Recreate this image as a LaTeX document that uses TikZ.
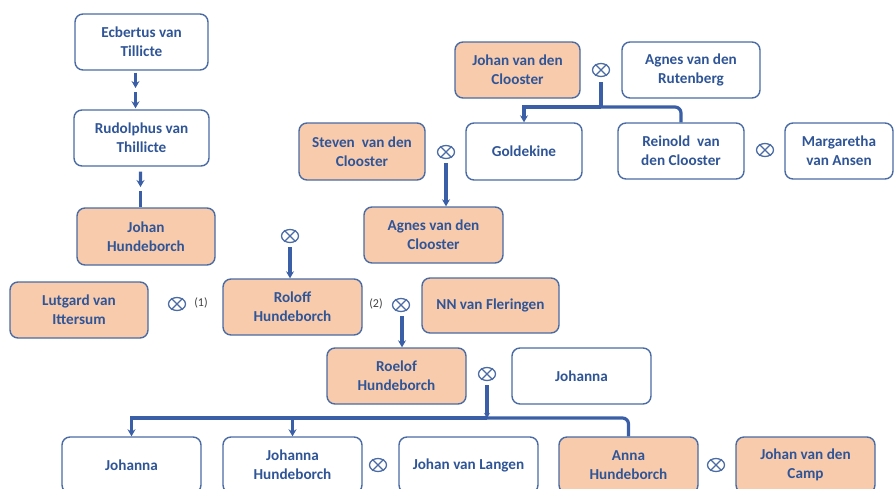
\documentclass[tikz,border=0pt]{standalone}
\usepackage{fontspec}
\setmainfont{Carlito}
\usetikzlibrary{arrows.meta,shapes.geometric,calc}
\definecolor{txtblue}{HTML}{2F5597}
\definecolor{bordblue}{HTML}{4A6BA3}
\definecolor{connblue}{HTML}{3A5FA6}
\definecolor{peach}{HTML}{F8CBAD}
\tikzset{
  person/.style={draw=bordblue, line width=1.4pt, rounded corners=8pt, fill=white,
    text=txtblue, font=\fontsize{15.2}{19}\selectfont\bfseries, align=center,
    inner sep=2pt, minimum height=56pt},
  hl/.style={fill=peach},
  wed/.style={ellipse, draw=bordblue, line width=1.3pt, minimum width=17pt, minimum height=13pt, inner sep=0pt},
  conn/.style={draw=connblue, line width=3.2pt},
  arr/.style={-{Stealth[length=7pt,width=8pt]}},
  lbl/.style={font=\fontsize{12}{13}\selectfont, text=black!75}
}
\begin{document}
\begin{tikzpicture}[x=1pt,y=-1pt]
\useasboundingbox (0,0) rectangle (894,488);
\clip (0,0) rectangle (894,488);
% persons
\node[person, minimum width=133pt] (ecb) at (141.5,42) {Ecbertus van\\Tillicte};
\node[person, minimum width=135pt] (rud) at (141.5,138) {Rudolphus van\\Thillicte};
\node[person, hl, minimum width=138pt, minimum height=57pt] (joh) at (146,236.5) {Johan\\Hundeborch};
\node[person, hl, minimum width=125pt] (jvdc) at (517.5,70) {Johan van den\\Clooster};
\node[person, minimum width=138pt] (agr) at (691,70) {Agnes van den\\Rutenberg};
\node[person, minimum width=116pt, minimum height=57pt] (gold) at (524,151.5) {Goldekine};
\node[person, minimum width=126pt] (rein) at (681,151) {Reinold\ \ van\\den Clooster};
\node[person, minimum width=108pt] (marg) at (839,151) {Margaretha\\van Ansen};
\node[person, hl, minimum width=126pt, minimum height=57pt] (stev) at (362,151.5) {Steven\ \ van den\\Clooster};
\node[person, hl, minimum width=139pt] (agc) at (433.5,235) {Agnes van den\\Clooster};
\node[person, hl, minimum width=138pt] (lut) at (79,310) {Lutgard van\\Ittersum};
\node[person, hl, minimum width=139pt] (rol) at (292.5,307) {Roloff\\Hundeborch};
\node[person, hl, minimum width=137pt, minimum height=55pt] (nn) at (490.5,305.5) {NN van Fleringen};
\node[person, hl, minimum width=139pt] (roe) at (396.5,376) {Roelof\\Hundeborch};
\node[person, minimum width=139pt] (joa) at (581.5,376) {Johanna};
\node[person, minimum width=139pt] (joa2) at (131.5,465) {Johanna};
\node[person, minimum width=139pt] (jh) at (292.5,465) {Johanna\\Hundeborch};
\node[person, minimum width=139pt] (jvl) at (468.5,465) {Johan van Langen};
\node[person, hl, minimum width=139pt] (anna) at (628.5,465) {Anna\\Hundeborch};
\node[person, hl, minimum width=139pt] (camp) at (805.5,465) {Johan van den\\Camp};
% marriage symbols
\node[wed] (m1) at (601,70) {};
\node[wed] (m2) at (446,152) {};
\node[wed] (m3) at (290,236) {};
\node[wed] (m4) at (177,304) {};
\node[wed] (m5) at (401,305) {};
\node[wed] (m6) at (487,374) {};
\node[wed] (m7) at (765,150) {};
\node[wed] (m8) at (378,465) {};
\node[wed] (m9) at (716,465) {};
\foreach \m in {m1,m2,m3,m4,m5,m6,m7,m8,m9}{
  \draw[draw=bordblue, line width=1.3pt] (\m.45) -- (\m.225) (\m.135) -- (\m.315);
}
\node[lbl] (l1) at (201,303) {(1)};
\node[lbl] (l2) at (376,304) {(2)};
% connectors
\coordinate (e1) at ($(ecb.south)!0.5!(rud.north)$);
\draw[conn, arr, shorten <=2pt, shorten >=2pt] ([xshift=-6pt]ecb.south) -- ([xshift=-6pt]e1);
\draw[conn, arr, shorten <=2pt, shorten >=1pt] ([xshift=-6pt]e1) -- ([xshift=-6pt]rud.north);
\coordinate (e2) at ($(rud.south)!0.55!(rud.south |- joh.north)$);
\draw[conn, arr, shorten <=5pt, shorten >=2pt] ([xshift=-1pt]rud.south) -- ([xshift=-1pt]e2);
\draw[conn, shorten <=2pt] ([xshift=-1pt]e2) -- ([xshift=-1pt]e2 |- joh.north);
\coordinate (j1) at (601,107);
\draw[conn] (m1.south) ++(0,5) -- (j1);
\draw[conn, arr] (j1) -| (gold.north);
\draw[conn, rounded corners=6pt] (j1) -| (rein.north);
\draw[conn, arr, shorten <=4pt] (m2.south) -- (m2.south |- agc.north);
\draw[conn, arr, shorten <=4pt] (m3.south) -- (m3.south |- rol.north);
\draw[conn, arr, shorten <=4pt] ([xshift=1pt]m5.south) -- ([xshift=1pt]m5.south |- roe.north);
\coordinate (j2) at (487,418);
\draw[conn, -{Stealth[length=5pt,width=6pt]}, shorten <=4pt] (m6.south) -- (j2);
\draw[conn, arr] (j2) -| (joa2.north);
\draw[conn, arr] (j2) -| (jh.north);
\draw[conn, rounded corners=6pt] (j2) -| (anna.north);
\end{tikzpicture}
\end{document}
